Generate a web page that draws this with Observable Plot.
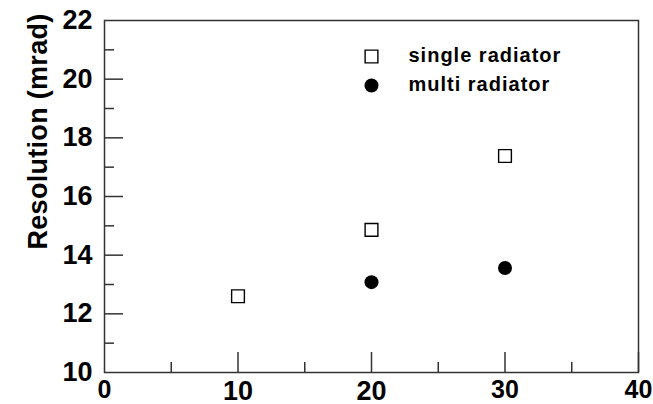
<!DOCTYPE html>
<html>
<head>
<meta charset="utf-8">
<script src="https://cdn.jsdelivr.net/npm/d3@7"></script>
<script src="https://cdn.jsdelivr.net/npm/@observablehq/plot@0.6"></script>
<style>
  html, body { margin: 0; padding: 0; background: #fff; }
</style>
</head>
<body>
<div id="chart"></div>
<script>
// ---- data ----
const singleX = [10, 20, 30];
const singleY = [12.6, 14.86, 17.38];
const multiX = [20, 30];
const multiY = [13.08, 13.56];

const xTicks = [0, 10, 20, 30, 40];
const yTicks = [10, 12, 14, 16, 18, 20, 22];
const xMajor = [10, 20, 30, 40];
const xMinor = [5, 15, 25, 35];
const yMajor = [12, 14, 16, 18, 20];
const yMinor = [11, 13, 15, 17, 19, 21];

const legendLabels = ["single radiator", "multi radiator"];
const yLabel = "Resolution (mrad)";

// ---- layout ----
const W = 653, H = 404;
const mL = 104, mR = 15, mT = 20, mB = 32;
const plotW = W - mL - mR, plotH = H - mT - mB;
const font = "'Liberation Sans', Arial, Helvetica, sans-serif";
const axisColor = "#333";

const single = singleX.map((x, i) => ({x, y: singleY[i]}));
const multi = multiX.map((x, i) => ({x, y: multiY[i]}));

const chart = Plot.plot({
  width: W,
  height: H,
  marginLeft: mL,
  marginRight: mR,
  marginTop: mT,
  marginBottom: mB,
  style: {fontFamily: font, fontWeight: "bold", color: "#000", background: "#fff"},
  x: {domain: [0, 40]},
  y: {domain: [10, 22]},
  marks: [
    Plot.axisX(xTicks, {tickSize: 0, tickPadding: 8, label: null, fontSize: 25}),
    Plot.axisY(yTicks, {tickSize: 0, tickPadding: 12, label: null, fontSize: 27}),
    Plot.tickX(xMajor, {x: d => d, stroke: axisColor, strokeWidth: 1.5, insetTop: plotH - 20}),
    Plot.tickX(xMinor, {x: d => d, stroke: axisColor, strokeWidth: 1.5, insetTop: plotH - 10}),
    Plot.tickY(yMajor, {y: d => d, stroke: axisColor, strokeWidth: 1.5, insetRight: plotW - 19}),
    Plot.tickY(yMinor, {y: d => d, stroke: axisColor, strokeWidth: 1.5, insetRight: plotW - 10}),
    Plot.frame({stroke: axisColor, strokeWidth: 1.5}),
    Plot.dot(single, {x: "x", y: "y", symbol: "square", r: 7.2, stroke: "#000", strokeWidth: 1.4, fill: "#fff"}),
    Plot.dot(multi, {x: "x", y: "y", symbol: "circle", r: 7, fill: "#000", stroke: "none"}),
    // legend
    Plot.dot([legendLabels[0]], {frameAnchor: "top-left", dx: 267, dy: 36, symbol: "square", r: 7.2, stroke: "#000", strokeWidth: 1.4, fill: "#fff"}),
    Plot.dot([legendLabels[1]], {frameAnchor: "top-left", dx: 267, dy: 65, symbol: "circle", r: 7, fill: "#000"}),
    Plot.text([legendLabels[0]], {text: d => d, frameAnchor: "top-left", dx: 304, dy: 35, textAnchor: "start", lineAnchor: "middle", fontSize: 20, fill: "#000"}),
    Plot.text([legendLabels[1]], {text: d => d, frameAnchor: "top-left", dx: 304, dy: 64, textAnchor: "start", lineAnchor: "middle", fontSize: 20, fill: "#000"}),
    Plot.text([yLabel], {text: d => d, frameAnchor: "top-left", dx: -66, dy: 111, rotate: -90, textAnchor: "middle", lineAnchor: "middle", fontSize: 27, fill: "#000"})
  ]
});
document.getElementById("chart").appendChild(chart);

// font styling applied inline so it wins over any defaults
const svg = d3.select(chart);
const xSet = new Set(xTicks.map(String));
const ySet = new Set(yTicks.map(String));
svg.selectAll("text").each(function () {
  const t = this.textContent;
  const sel = d3.select(this);
  sel.style("font-family", font).style("font-weight", "bold");
  if (ySet.has(t) && this.getAttribute("text-anchor") !== "middle" && this.parentNode.getAttribute("text-anchor") !== "middle") sel.style("font-size", "27px");
  else if (xSet.has(t) || ySet.has(t)) sel.style("font-size", null);
  else if (legendLabels.includes(t)) sel.style("font-size", "20px").style("letter-spacing", "1px");
  else if (t === yLabel) sel.style("font-size", "27px").style("letter-spacing", "0.3px");
});
</script>
</body>
</html>
